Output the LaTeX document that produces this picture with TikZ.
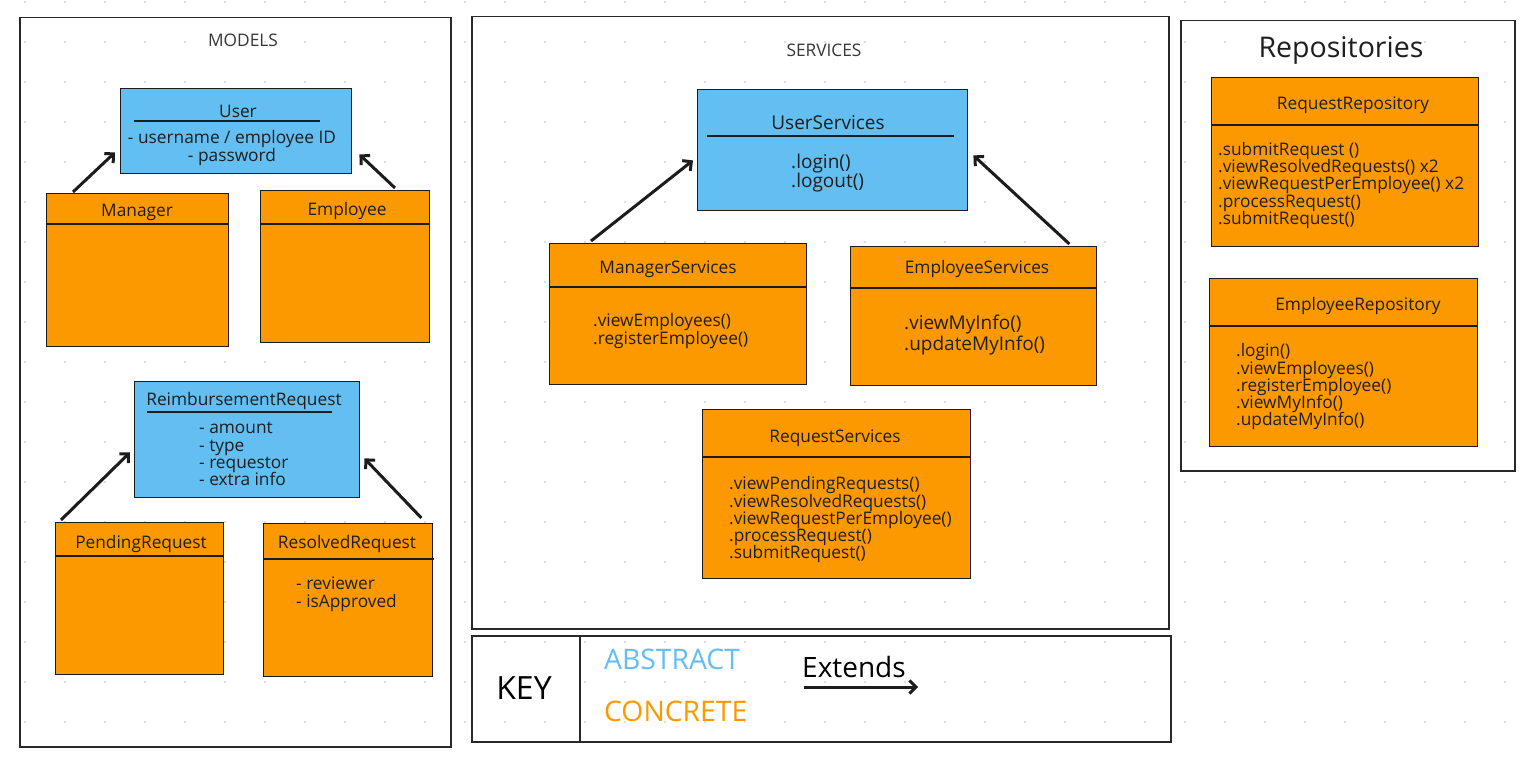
\documentclass[tikz,border=0pt]{standalone}
\usepackage{fontspec}
\setmainfont{Open Sans}
\usetikzlibrary{arrows.meta}
\definecolor{absfill}{RGB}{99,190,242}
\definecolor{confill}{RGB}{253,153,0}
\definecolor{linec}{RGB}{28,28,28}
\definecolor{framec}{RGB}{40,40,40}
\definecolor{txtc}{RGB}{30,30,30}
\definecolor{lblc}{RGB}{55,55,55}
\definecolor{dotc}{RGB}{212,212,212}
\newcommand{\firststrut}{\rule{0pt}{0.85em}}
\lineskiplimit=-50pt
\lineskip=0pt
\begin{document}
\begin{tikzpicture}[x=1pt,y=-1pt,
  box/.style={draw=linec, line width=1.4pt, inner sep=0pt, anchor=north west},
  absbox/.style={box, fill=absfill},
  conbox/.style={box, fill=confill},
  frame/.style={draw=framec, line width=1.5pt, inner sep=0pt, anchor=north west},
  divl/.style={draw=linec, line width=1.4pt},
  ulin/.style={draw=linec, line width=1.4pt},
  ttl/.style={font=\fontsize{17.3}{17.3}\selectfont, text=txtc, inner sep=0pt, text height=14pt, text depth=0pt},
  lbl/.style={font=\fontsize{17.3}{17.3}\selectfont, text=lblc, inner sep=0pt, text height=14pt, text depth=0pt},
  bodyl/.style={font=\fontsize{17.3}{17.2}\selectfont, text=txtc, inner sep=0pt, align=left, anchor=north west},
  bodyc/.style={font=\fontsize{17.3}{17.2}\selectfont, text=txtc, inner sep=0pt, align=center, anchor=north},
  bigl/.style={font=\fontsize{19}{19.5}\selectfont, text=txtc, inner sep=0pt, align=left, anchor=north west},
  ext/.style={draw=linec, line width=3pt, -{Straight Barb[length=6.5pt,width=13pt]}},
]
\fill[white] (0,0) rectangle (1532,759);
\useasboundingbox (0,0) rectangle (1532,759);
\foreach \x in {25,65,...,1505} {
  \foreach \y in {2,42,...,742} {
    \fill[dotc] (\x,\y) circle[radius=1.1pt];
  }
}
% frames
\node[frame, minimum width=431pt, minimum height=729pt] (models) at (19,17) {};
\node[frame, minimum width=697pt, minimum height=612pt] (services) at (471,16) {};
\node[frame, minimum width=334pt, minimum height=450pt] (repos) at (1180,20) {};
\node[frame, minimum width=699pt, minimum height=106pt] (key) at (471,635) {};
\draw[frame] (key.north west) ++(109,0) -- ++(0,106);

\node[lbl] (modelslbl) at (243,40) {MODELS};
\node[lbl] (serviceslbl) at (824,50) {SERVICES};
\node[ttl, font=\fontsize{28.5}{30}\selectfont, text height=21pt, text depth=0pt] (reposlbl) at (1341,47) {Repositories};

% MODELS
\node[absbox, minimum width=231pt, minimum height=85pt] (user) at (120,88) {};
\draw[ulin] (user.north west) ++(14,33) -- ++(186,0);
\node[ttl] (usert) at (238,111) {User};
\node[bodyc] (userb) at (232,129) {\firststrut- username / employee ID\\- password};

\node[conbox, minimum width=182pt, minimum height=153pt] (mgr) at (46,193) {};
\draw[divl] ([yshift=-31pt]mgr.north west) -- ([yshift=-31pt]mgr.north east);
\node[ttl] (mgrt) at (137,210) {Manager};

\node[conbox, minimum width=169pt, minimum height=152pt] (emp) at (260,190) {};
\draw[divl] ([yshift=-34pt]emp.north west) -- ([yshift=-34pt]emp.north east);
\node[ttl] (empt) at (347,209) {Employee};

\node[absbox, minimum width=225pt, minimum height=116pt] (reimb) at (134,381) {};
\draw[ulin] (reimb.north west) ++(13,31) -- ++(185,0);
\node[ttl] (reimbt) at (244,399) {ReimbursementRequest};
\node[bodyl] (reimbb) at (199,419) {\firststrut- amount\\- type\\- requestor\\- extra info};

\node[conbox, minimum width=168pt, minimum height=152pt] (pend) at (55,522) {};
\draw[divl] ([yshift=-34pt]pend.north west) -- ([yshift=-34pt]pend.north east);
\node[ttl] (pendt) at (141,541) {PendingRequest};

\node[conbox, minimum width=169pt, minimum height=153pt] (res) at (263,523) {};
\draw[divl] ([yshift=-36pt]res.north west) -- ([shift={(1pt,-36pt)}]res.north east);
\node[ttl] (rest) at (347,541) {ResolvedRequest};
\node[bodyl] (resb) at (296,575) {\firststrut- reviewer\\- isApproved};

\draw[ext] ([shift={(27,-1)}]mgr.north west) -- ([shift={(-5,-22)}]user.south west);
\draw[ext] ([shift={(135,-2)}]emp.north west) -- ([shift={(7,-20)}]user.south east);
\draw[ext] ([shift={(6,-2)}]pend.north west) -- ([shift={(-4,-46)}]reimb.south west);
\draw[ext] ([shift={(-12,-5)}]res.north east) -- ([shift={(4,-40)}]reimb.south east);

% SERVICES
\node[absbox, minimum width=270pt, minimum height=121pt] (us) at (697,89) {};
\draw[ulin] (us.north west) ++(10,47) -- ++(247,0);
\node[ttl, font=\fontsize{19}{20}\selectfont, text height=15pt, text depth=0pt] (ust) at (828,122) {UserServices};
\node[bigl] (usb) at (791,152) {\firststrut.login()\\.logout()};

\node[conbox, minimum width=257pt, minimum height=141pt] (mgrs) at (549,243) {};
\draw[divl] ([yshift=-44pt]mgrs.north west) -- ([yshift=-44pt]mgrs.north east);
\node[ttl] (mgrst) at (668,267) {ManagerServices};
\node[bodyl, font=\fontsize{17.3}{18}\selectfont] (mgrsb) at (593,312) {\firststrut.viewEmployees()\\.registerEmployee()};

\node[conbox, minimum width=246pt, minimum height=139pt] (emps) at (850,246) {};
\draw[divl] ([yshift=-42pt]emps.north west) -- ([yshift=-42pt]emps.north east);
\node[ttl] (empst) at (977,267) {EmployeeServices};
\node[bigl, font=\fontsize{19}{21}\selectfont] (empsb) at (904,313) {\firststrut.viewMyInfo()\\.updateMyInfo()};

\node[conbox, minimum width=268pt, minimum height=169pt] (reqs) at (702,409) {};
\draw[divl] ([yshift=-48pt]reqs.north west) -- ([yshift=-48pt]reqs.north east);
\node[ttl] (reqst) at (835,435) {RequestServices};
\node[bodyl] (reqsb) at (729,475) {\firststrut.viewPendingRequests()\\.viewResolvedRequests()\\.viewRequestPerEmployee()\\.processRequest()\\.submitRequest()};

\draw[ext] ([shift={(42,-2)}]mgrs.north west) -- ([shift={(-4,-51)}]us.south west);
\draw[ext] ([shift={(-28,-2)}]emps.north east) -- ([shift={(5,-56)}]us.south east);

% REPOSITORIES
\node[conbox, minimum width=267pt, minimum height=169pt] (reqrepo) at (1211,77) {};
\draw[divl] ([yshift=-48pt]reqrepo.north west) -- ([yshift=-48pt]reqrepo.north east);
\node[ttl] (reqrepot) at (1353,103) {RequestRepository};
\node[bodyl] (reqrepob) at (1218,140.5) {\firststrut.submitRequest ()\\.viewResolvedRequests() x2\\.viewRequestPerEmployee() x2\\.processRequest()\\.submitRequest()};

\node[conbox, minimum width=268pt, minimum height=168pt] (emprepo) at (1209,278) {};
\draw[divl] ([yshift=-48pt]emprepo.north west) -- ([yshift=-48pt]emprepo.north east);
\node[ttl] (emprepot) at (1358,304) {EmployeeRepository};
\node[bodyl] (emprepob) at (1236,342) {\firststrut.login()\\.viewEmployees()\\.registerEmployee()\\.viewMyInfo()\\.updateMyInfo()};

% KEY
\node[ttl, font=\fontsize{32}{34}\selectfont, text height=23pt, text depth=0pt, text=black] (keyt) at (524,688) {KEY};
\node[ttl, anchor=west, font=\fontsize{28.3}{30}\selectfont, text height=20.5pt, text depth=0pt, text=absfill] (abst) at (604,659) {ABSTRACT};
\node[ttl, anchor=west, font=\fontsize{28.3}{30}\selectfont, text height=20.5pt, text depth=0pt, text=confill] (cont) at (604,711) {CONCRETE};
\node[ttl, anchor=west, font=\fontsize{28}{30}\selectfont, text height=19pt, text depth=3pt, text=black] (extt) at (802,669) {Extends};
\coordinate (ka) at (804,687);
\coordinate (kb) at (918,687);
\draw[ext] (ka) -- (kb);
\end{tikzpicture}
\end{document}
